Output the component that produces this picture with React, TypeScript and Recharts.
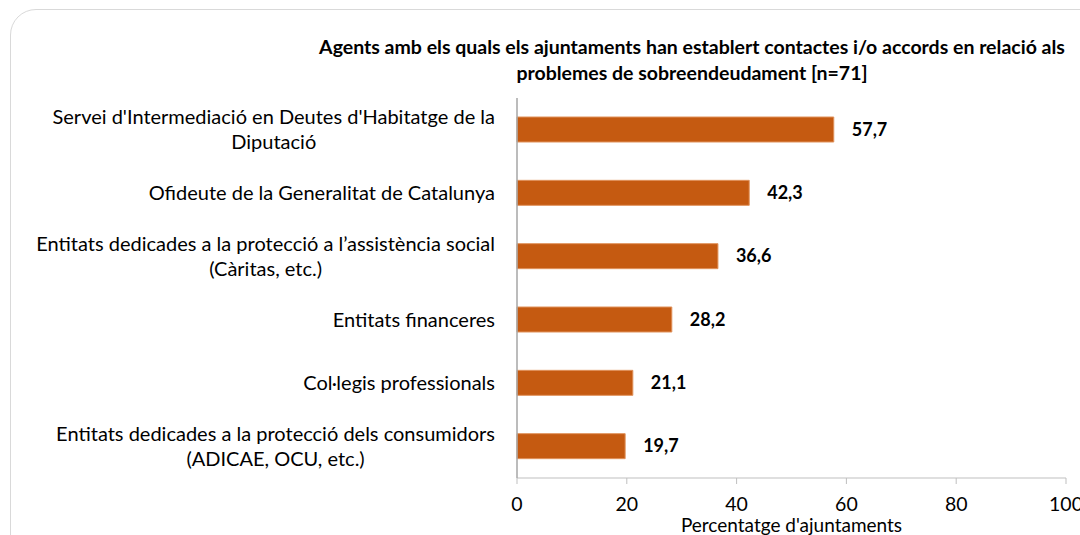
import React from 'react';
import { BarChart, Bar, XAxis, YAxis, LabelList } from 'recharts';

const categories = [
  "Servei d'Intermediació en Deutes d'Habitatge de la\nDiputació",
  'Ofideute de la Generalitat de Catalunya',
  'Entitats dedicades a la protecció a l’assistència social\n(Càritas, etc.)',
  'Entitats financeres',
  'Col·legis professionals',
  'Entitats dedicades a la protecció dels consumidors\n(ADICAE, OCU, etc.)',
];
const values = [57.7, 42.3, 36.6, 28.2, 21.1, 19.7];
const xTicks = [0, 20, 40, 60, 80, 100];
const titleLines = [
  'Agents amb els quals els ajuntaments han establert contactes i/o accords en relació als',
  'problemes de sobreendeudament [n=71]',
];
const xAxisTitle = "Percentatge d'ajuntaments";

const data = categories.map((c, i) => ({ name: c, value: values[i] }));

const FONT = 'Lato, "Noto Sans", sans-serif';
const CAT_SIZE = 20;

let ctx: CanvasRenderingContext2D | null = null;
function measure(text: string, size: number) {
  if (!ctx) ctx = document.createElement('canvas').getContext('2d');
  if (!ctx) return text.length * size * 0.5;
  ctx.font = `${size}px Lato, sans-serif`;
  return ctx.measureText(text).width;
}

const CatTick = (props: any) => {
  const { x, y, payload } = props;
  const lines: string[] = String(payload.value).split('\n');
  const right = x - 14;
  const widths = lines.map((l) => measure(l, CAT_SIZE));
  const maxW = Math.max(...widths);
  const longest = widths.indexOf(maxW);
  const cx = right - maxW / 2;
  const lh = 25;
  const start = y - ((lines.length - 1) * lh) / 2;
  return (
    <g>
      {lines.map((l, i) => (
        <text
          key={i}
          x={i === longest ? right : cx}
          y={start + i * lh}
          dy="0.35em"
          textAnchor={i === longest ? 'end' : 'middle'}
          fontFamily={FONT}
          fontSize={CAT_SIZE}
          fill="#000"
        >
          {l}
        </text>
      ))}
    </g>
  );
};

const ValueLabel = (props: any) => {
  const { x, y, width, height, value } = props;
  return (
    <text
      x={x + width + 18}
      y={y + height / 2}
      dy="0.35em"
      textAnchor="start"
      fontFamily={FONT}
      fontWeight="bold"
      fontSize={18}
      fill="#000"
    >
      {String(value).replace('.', ',')}
    </text>
  );
};

export default function App() {
  return (
    <div
      style={{
        position: 'absolute',
        left: 0,
        top: 0,
        width: 1080,
        height: 535,
        overflow: 'hidden',
        background: '#fff',
      }}
    >
      <div
        style={{
          position: 'absolute',
          left: 10,
          top: 9,
          width: 1120,
          height: 580,
          border: '1px solid #D9D9D9',
          borderRadius: 26,
          boxSizing: 'border-box',
        }}
      />
      <div style={{ position: 'absolute', left: 0, top: 0 }}>
        <BarChart
          width={1080}
          height={535}
          data={data}
          layout="vertical"
          margin={{ top: 98, right: 14, bottom: 0, left: 0 }}
          barCategoryGap="30%"
        >
          <text
            x={692}
            y={47}
            dy="0.35em"
            textAnchor="middle"
            fontFamily={FONT}
            fontWeight="bold"
            fontSize={19.5}
            fill="#000"
          >
            {titleLines[0]}
          </text>
          <text
            x={692}
            y={73}
            dy="0.35em"
            textAnchor="middle"
            fontFamily={FONT}
            fontWeight="bold"
            fontSize={19.5}
            fill="#000"
          >
            {titleLines[1]}
          </text>
          <XAxis
            type="number"
            domain={[0, 100]}
            ticks={xTicks}
            height={57}
            tickSize={6}
            tickMargin={13}
            stroke="#BFBFBF"
            tick={{ fill: '#000', fontSize: 19.5, fontFamily: FONT }}
            interval={0}
            label={{
              value: xAxisTitle,
              position: 'insideBottom',
              offset: 3,
              fill: '#000',
              fontSize: 19,
              fontFamily: FONT,
            }}
          />
          <YAxis
            type="category"
            dataKey="name"
            width={517}
            tickLine={false}
            stroke="#A6A6A6"
            strokeWidth={1.5}
            tick={<CatTick />}
            interval={0}
          />
          <Bar dataKey="value" fill="#C55A11" stroke="#E0925C" strokeWidth={1} isAnimationActive={false}>
            <LabelList dataKey="value" content={<ValueLabel />} />
          </Bar>
        </BarChart>
      </div>
    </div>
  );
}
